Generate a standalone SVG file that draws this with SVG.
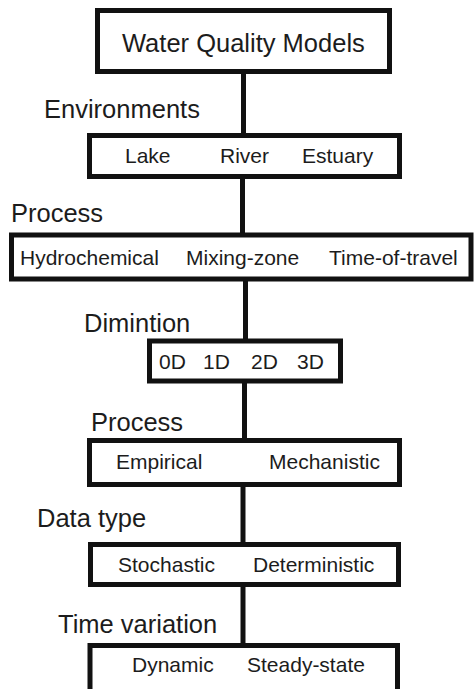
<svg xmlns="http://www.w3.org/2000/svg" width="476" height="689" viewBox="0 0 476 689">
  <style>
    .box { fill: #ffffff; stroke: #111111; stroke-width: 5; }
    .conn { stroke: #111111; stroke-width: 5; fill: none; }
    .lbl { font-family: "Liberation Sans", Arial, sans-serif; font-size: 25.5px; fill: #1c1c1c; }
    .txt { font-family: "Liberation Sans", Arial, sans-serif; font-size: 21px; fill: #1c1c1c; }
  </style>
  <rect width="476" height="689" fill="#ffffff"/>
  <g id="connectors">
    <line class="conn" x1="243.5" y1="72" x2="243.5" y2="135"/>
    <line class="conn" x1="242.5" y1="177" x2="242.5" y2="235"/>
    <line class="conn" x1="245.5" y1="279" x2="245.5" y2="341"/>
    <line class="conn" x1="244.5" y1="381" x2="244.5" y2="440"/>
    <line class="conn" x1="243" y1="485" x2="243" y2="544"/>
    <line class="conn" x1="243" y1="585" x2="243" y2="645"/>
  </g>
  <g id="labels">
    <text class="lbl" x="44" y="118">Environments</text>
    <text class="lbl" x="11" y="222">Process</text>
    <text class="lbl" x="84" y="332">Dimintion</text>
    <text class="lbl" x="91" y="431">Process</text>
    <text class="lbl" x="37" y="527">Data type</text>
    <text class="lbl" x="58" y="633">Time variation</text>
  </g>
  <g id="node-root">
    <rect class="box" x="97.5" y="10.5" width="292" height="61"/>
    <text class="lbl" x="122" y="52">Water Quality Models</text>
  </g>
  <g id="node-environments">
    <rect class="box" x="89.5" y="135.5" width="310" height="41"/>
    <text class="txt" x="125" y="163">Lake</text>
    <text class="txt" x="220" y="163">River</text>
    <text class="txt" x="302" y="163">Estuary</text>
  </g>
  <g id="node-process">
    <rect class="box" x="11.5" y="235" width="459.5" height="44"/>
    <text class="txt" x="20" y="265">Hydrochemical</text>
    <text class="txt" x="186" y="265">Mixing-zone</text>
    <text class="txt" x="329" y="265">Time-of-travel</text>
  </g>
  <g id="node-dimension">
    <rect class="box" x="149.5" y="341" width="191" height="40"/>
    <text class="txt" x="159" y="369">0D</text>
    <text class="txt" x="203" y="369">1D</text>
    <text class="txt" x="251" y="369">2D</text>
    <text class="txt" x="297" y="369">3D</text>
  </g>
  <g id="node-process2">
    <rect class="box" x="89.5" y="440.5" width="310" height="44"/>
    <text class="txt" x="116" y="469">Empirical</text>
    <text class="txt" x="269" y="469">Mechanistic</text>
  </g>
  <g id="node-datatype">
    <rect class="box" x="90.5" y="544.5" width="308" height="40"/>
    <text class="txt" x="118" y="572">Stochastic</text>
    <text class="txt" x="253" y="572">Deterministic</text>
  </g>
  <g id="node-time">
    <rect class="box" x="90" y="645.5" width="307.5" height="50"/>
    <text class="txt" x="132" y="672">Dynamic</text>
    <text class="txt" x="247" y="672">Steady-state</text>
  </g>
</svg>
